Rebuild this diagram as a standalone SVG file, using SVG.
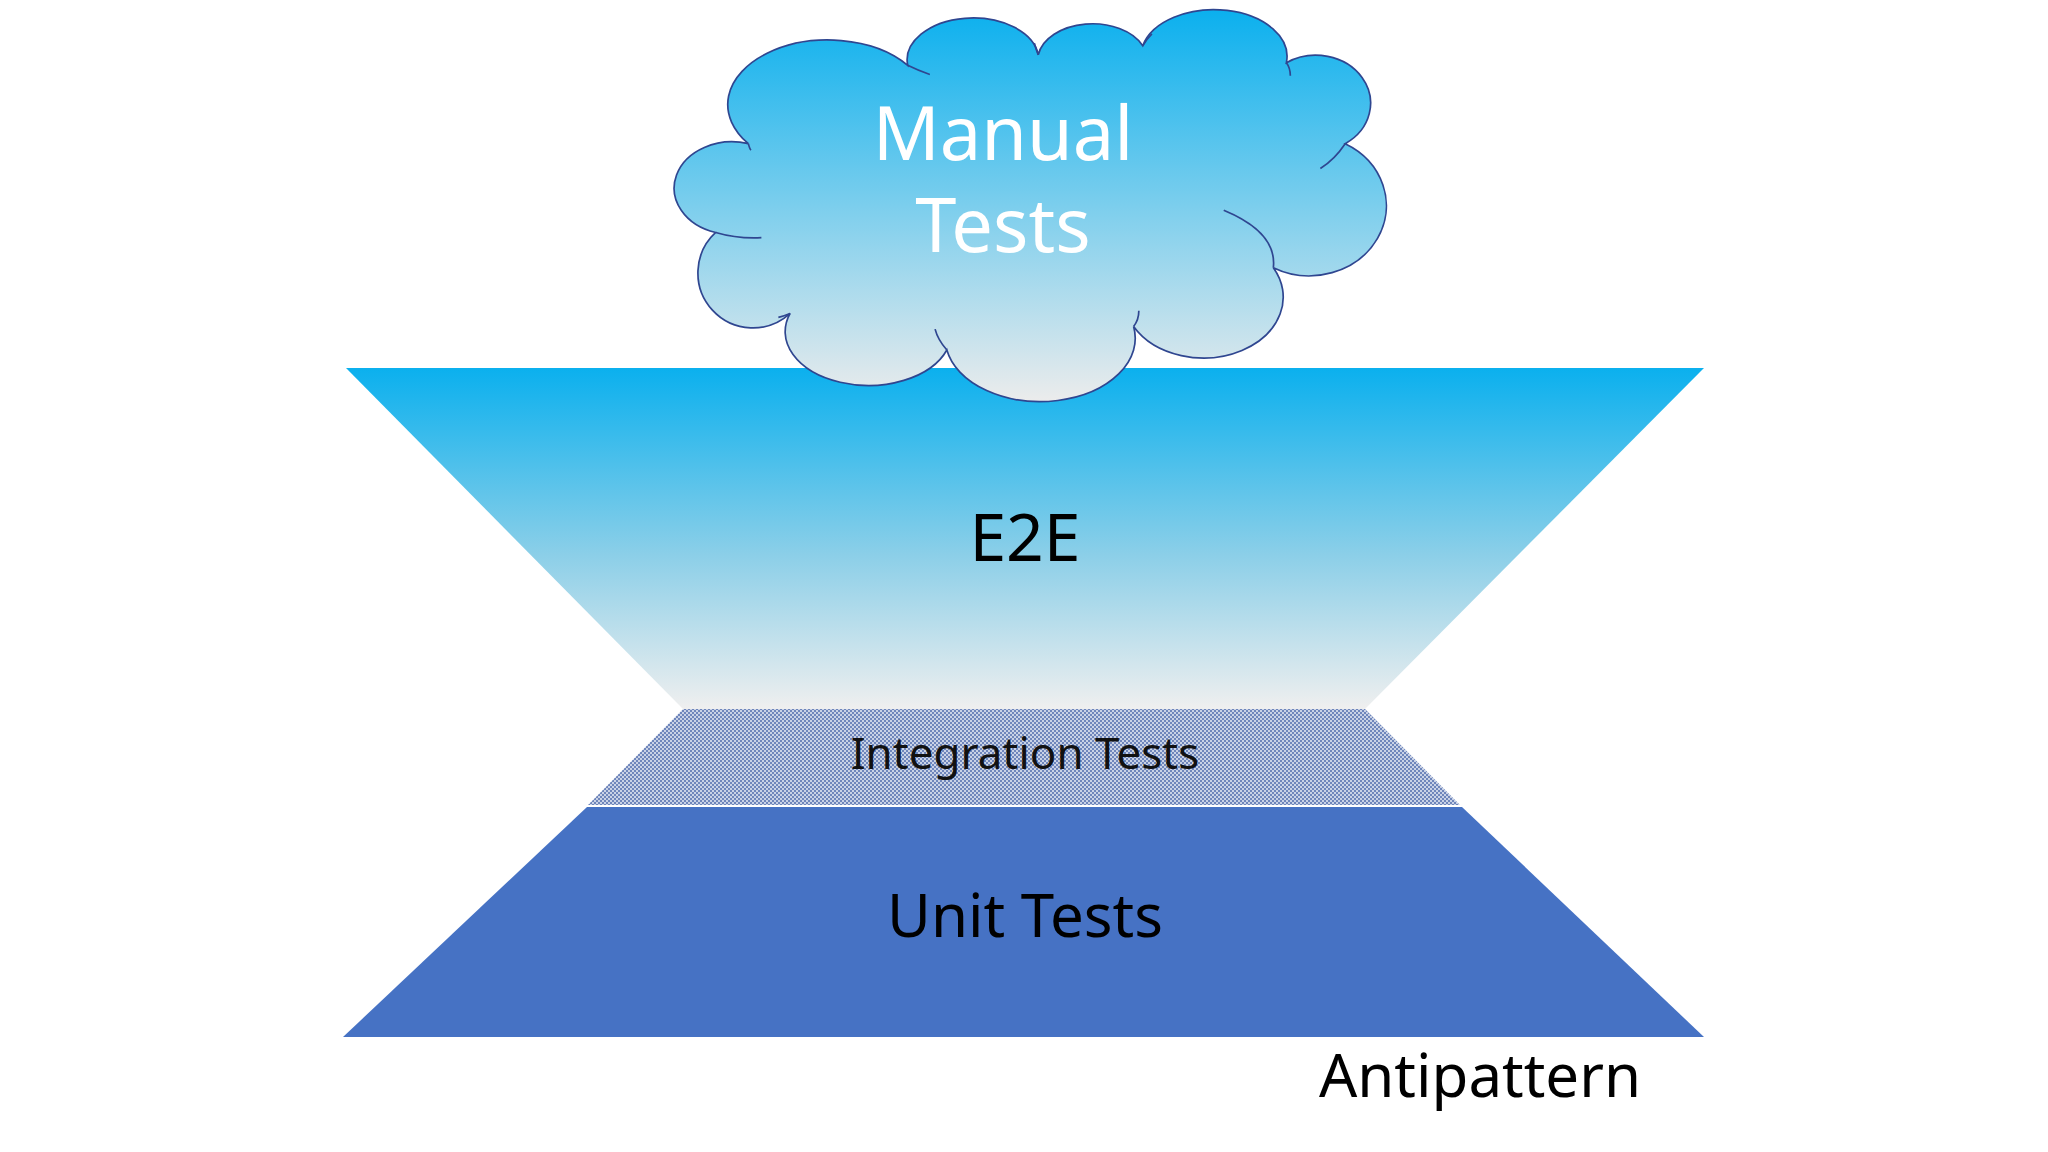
<svg xmlns="http://www.w3.org/2000/svg" width="2048" height="1152" viewBox="0 0 2048 1152">
<defs>
<linearGradient id="g1" x1="0" y1="0" x2="0" y2="1"><stop offset="0" stop-color="#0bb0ee"/><stop offset="0.55" stop-color="#8ccfe8"/><stop offset="1" stop-color="#efefef"/></linearGradient>
<linearGradient id="g2" x1="0" y1="0" x2="0" y2="1"><stop offset="0" stop-color="#0bb0ee"/><stop offset="1" stop-color="#ececec"/></linearGradient>
<pattern id="dots" width="4" height="4" patternUnits="userSpaceOnUse"><rect width="4" height="4" fill="#c9d2e6"/><rect width="2" height="2" fill="#6f86bb"/><rect x="2" y="2" width="2" height="2" fill="#6f86bb"/></pattern>
<style>text{font-family:"Noto Sans","DejaVu Sans",sans-serif;text-anchor:middle}</style>
</defs>
<rect width="2048" height="1152" fill="#ffffff"/>
<g id="e2e"><polygon points="346,368 1704,368 1365,709 683,709" fill="url(#g1)"/><text x="1025" y="561" font-size="66" fill="#000">E2E</text></g>
<g id="cloud">
<path transform="scale(1.306)" d="M548,178 A30,30 0 0 0 605,240 A62,40 0 0 0 725,268 A72,48 0 0 0 868,250 A55,42 0 0 0 975,205 A55,50 0 0 0 1030,110 A40,35 0 0 0 985,48 A56,36 0 0 0 875,35 A42,28 0 0 0 795,42 A50,32 0 0 0 695,50 A70,45 0 0 0 573,110 A40,32 0 0 0 548,178 Z" fill="url(#g2)" stroke="#2f4690" stroke-width="1.3"/>
<path transform="scale(1.306)" d="M548,178 Q565,183 583,182 M605,240 Q600,242 596,243 M725,268 Q718,260 716,252 M868,250 Q872,245 872,238 M975,205 Q978,178 937,161 M1030,110 Q1022,122 1011,129 M985,48 Q988,52 988,58 M875,35 Q878,30 882,26 M795,42 Q793,37 792,33 M695,50 Q703,54 712,57 M573,110 Q574,114 575,115" fill="none" stroke="#2f4690" stroke-width="1.3"/>
<text x="1003" y="160" font-size="74" fill="#ffffff">Manual</text>
<text x="1003" y="252" font-size="74" fill="#ffffff">Tests</text>
</g>
<g id="integration"><polygon points="683,709 1365,709 1460,805 588,805" fill="url(#dots)"/><text x="1025" y="769" font-size="44" fill="#111">Integration Tests</text></g>
<g id="unit"><polygon points="587,807 1462,807 1704,1037 343,1037" fill="#4672c4"/><text x="1025" y="937" font-size="60" fill="#000">Unit Tests</text></g>
<g id="anti"><text x="1480" y="1097" font-size="60" fill="#000">Antipattern</text></g>
<g id="connectors"/>
</svg>
